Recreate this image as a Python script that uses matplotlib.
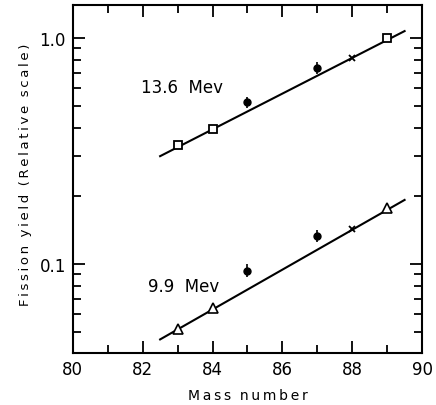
import matplotlib
matplotlib.use("Agg")
import matplotlib.pyplot as plt
from matplotlib.ticker import FixedLocator, NullFormatter, FixedFormatter
import numpy as np

# ---- data ----
hi_sq_x = [83, 84, 89]
hi_sq_y = [0.335, 0.394, 1.0]
hi_x_x = [88]
hi_x_y = [0.815]
hi_dot_x = [85, 87]
hi_dot_y = [0.521, 0.739]
hi_dot_err = [0.03, 0.045]
hi_fit_x = [82.5, 89.5]
hi_fit_y = [0.30, 1.074]

lo_tri_x = [83, 84, 89]
lo_tri_y = [0.0515, 0.0637, 0.176]
lo_x_x = [88]
lo_x_y = [0.143]
lo_dot_x = [85, 87]
lo_dot_y = [0.0934, 0.133]
lo_dot_err = [0.006, 0.008]
lo_fit_x = [82.5, 89.5]
lo_fit_y = [0.0463, 0.192]

x_ticks = [80, 82, 84, 86, 88, 90]
x_minor = [81, 83, 85, 87, 89]
y_ticks = [0.1, 1.0]
y_ticklabels = ["0.1", "1.0"]
y_minor = [0.05, 0.06, 0.07, 0.08, 0.09, 0.2, 0.3, 0.4, 0.5, 0.6, 0.7, 0.8, 0.9]


def spaced(s):
    ts = "\u2009"
    return "  ".join(ts.join(w) for w in s.split(" "))


fig = plt.figure(figsize=(4.36, 4.06), dpi=100)
ax = fig.add_axes([0.167, 0.128, 0.801, 0.857])
ax.set_yscale("log")
ax.set_xlim(80, 90)
ax.set_ylim(0.0403, 1.40)

k = "black"
for fx, fy in [(hi_fit_x, hi_fit_y), (lo_fit_x, lo_fit_y)]:
    ax.plot(fx, fy, color=k, lw=1.5, zorder=2)

ax.plot(hi_sq_x, hi_sq_y, ls="none", marker="s", ms=6, mfc="white", mec=k, mew=1.3, zorder=3)
ax.plot(lo_tri_x, lo_tri_y, ls="none", marker="^", ms=7, mfc="white", mec=k, mew=1.2, zorder=3)
ax.plot(hi_x_x, hi_x_y, ls="none", marker="x", ms=5, mec=k, mew=1.3, zorder=3)
ax.plot(lo_x_x, lo_x_y, ls="none", marker="x", ms=5, mec=k, mew=1.3, zorder=3)
ax.errorbar(hi_dot_x, hi_dot_y, yerr=hi_dot_err, fmt="o", ms=5, color=k, elinewidth=1.2, capsize=0, zorder=3)
ax.errorbar(lo_dot_x, lo_dot_y, yerr=lo_dot_err, fmt="o", ms=5, color=k, elinewidth=1.2, capsize=0, zorder=3)

ax.text(81.95, 0.61, "13.6  Mev", fontsize=12, va="center", ha="left")
ax.text(82.15, 0.0800, "9.9  Mev", fontsize=12, va="center", ha="left")

ax.xaxis.set_major_locator(FixedLocator(x_ticks))
ax.xaxis.set_minor_locator(FixedLocator(x_minor))
ax.yaxis.set_major_locator(FixedLocator(y_ticks))
ax.yaxis.set_major_formatter(FixedFormatter(y_ticklabels))
ax.yaxis.set_minor_locator(FixedLocator(y_minor))
ax.yaxis.set_minor_formatter(NullFormatter())

ax.tick_params(which="both", direction="in", top=True, right=True, width=1.3, labelsize=12, pad=5)
ax.tick_params(which="major", length=8.5)
ax.tick_params(which="minor", length=5.5)
for s in ax.spines.values():
    s.set_linewidth(1.5)

ax.set_xlabel(spaced("Mass number"), fontsize=10, labelpad=7)
ax.set_ylabel(spaced("Fission yield (Relative scale)"), fontsize=9.5)
ax.yaxis.set_label_coords(-0.118, 0.514)

fig.savefig("out.png", dpi=100)
